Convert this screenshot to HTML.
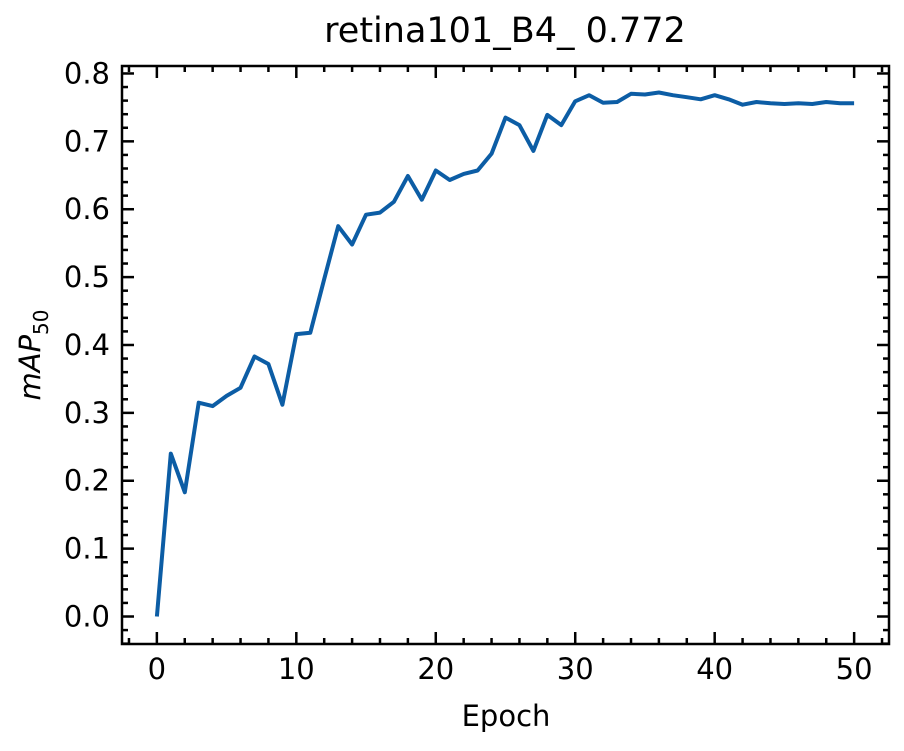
<!DOCTYPE html>
<html><head><meta charset="utf-8"><style>
body{margin:0;background:#fff;}
svg text{font-family:"DejaVu Sans","Liberation Sans",sans-serif;fill:#000;}
</style></head><body>
<svg id="chart" width="904" height="746" viewBox="0 0 904 746">
<text x="505" y="42" font-size="35" text-anchor="middle">retina101_B4_ 0.772</text>
<text x="506" y="726" font-size="29" text-anchor="middle">Epoch</text>
<text transform="translate(40,355) rotate(-90)" font-size="29" text-anchor="middle" font-style="italic">mAP<tspan font-style="normal" font-size="20" dy="8">50</tspan></text>
<g id="ticks"></g>
<path id="line" fill="none" stroke="#0c5da5" stroke-width="4" stroke-linejoin="round"/>
<rect x="122" y="66" width="767" height="578" fill="none" stroke="#000" stroke-width="2.5"/>
</svg>
<script>
const epochs=[0,1,2,3,4,5,6,7,8,9,10,11,12,13,14,15,16,17,18,19,20,21,22,23,24,25,26,27,28,29,30,31,32,33,34,35,36,37,38,39,40,41,42,43,44,45,46,47,48,49,50];
const mapValues=[0.0,0.24,0.183,0.315,0.31,0.325,0.337,0.383,0.372,0.312,0.416,0.418,0.497,0.575,0.548,0.592,0.595,0.611,0.649,0.614,0.657,0.643,0.652,0.657,0.682,0.735,0.724,0.686,0.739,0.724,0.759,0.768,0.757,0.758,0.770,0.769,0.772,0.768,0.765,0.762,0.768,0.762,0.754,0.758,0.756,0.755,0.756,0.755,0.758,0.756,0.756];
const xTicks=[0,10,20,30,40,50];
const yTicks=[0.0,0.1,0.2,0.3,0.4,0.5,0.6,0.7,0.8];
const X0=122,X1=889,Y0=644,Y1=66,xmin=-2.5,xmax=52.5,ymin=-0.0405,ymax=0.811;
const sx=v=>X0+(v-xmin)/(xmax-xmin)*(X1-X0);
const sy=v=>Y0-(v-ymin)/(ymax-ymin)*(Y0-Y1);
const NS="http://www.w3.org/2000/svg";
const g=document.getElementById('ticks');
function ln(x1,y1,x2,y2,name){const l=document.createElementNS(NS,'line');l.setAttribute('x1',x1);l.setAttribute('y1',y1);l.setAttribute('x2',x2);l.setAttribute('y2',y2);l.setAttribute('stroke','#000');l.setAttribute('stroke-width','2.5');


g.appendChild(l);}
function tx(x,y,s,anchor,name){const t=document.createElementNS(NS,'text');t.setAttribute('x',x);t.setAttribute('y',y);t.setAttribute('font-size','29');t.setAttribute('text-anchor',anchor);t.textContent=s;


g.appendChild(t);}
for(let v=-2;v<=52;v+=2){const x=sx(v);const major=v%10===0;const L=major?12:6;
ln(x,Y0,x,Y0-L,major?'x-major-tick':'x-minor-tick');ln(x,Y1,x,Y1+L,major?'x-major-tick':'x-minor-tick');}
xTicks.forEach(v=>tx(sx(v),679,String(v),'middle','x-tick-label'));
for(let i=-2;i<=40;i++){const v=i*0.02;const y=sy(v);const major=i%5===0;const L=major?12:6;
ln(X0,y,X0+L,y,major?'y-major-tick':'y-minor-tick');ln(X1,y,X1-L,y,major?'y-major-tick':'y-minor-tick');}
yTicks.forEach(v=>tx(110,sy(v)+10,v.toFixed(1),'end','y-tick-label'));
document.getElementById('line').setAttribute('d',epochs.map((e,i)=>(i?'L':'M')+sx(e).toFixed(1)+','+sy(mapValues[i]).toFixed(1)).join(''));
</script>
</body></html>
